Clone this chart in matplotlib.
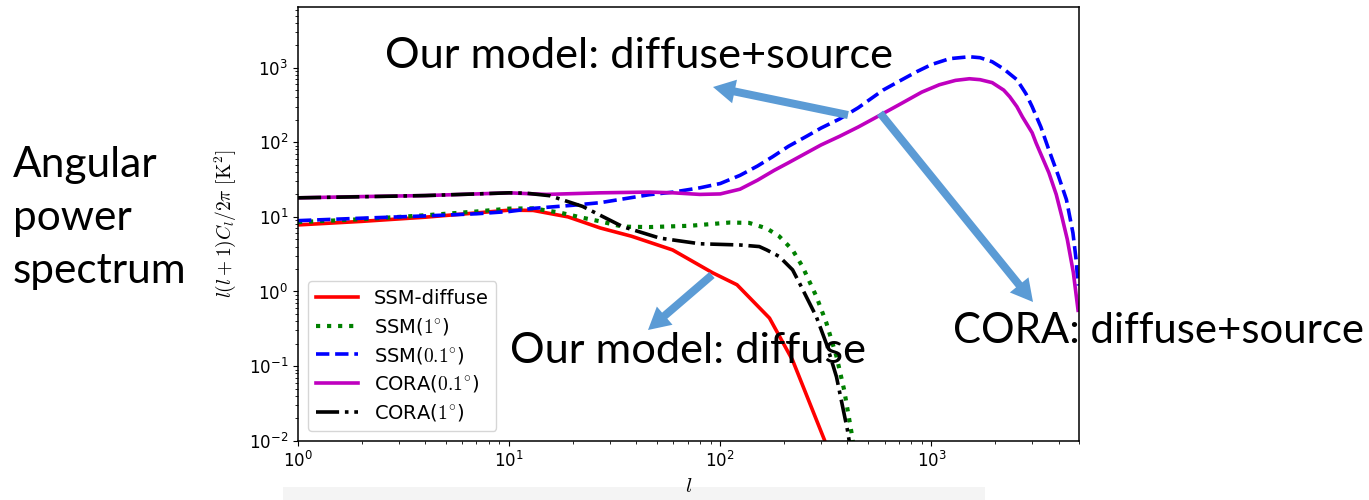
import matplotlib
matplotlib.use("Agg")
import matplotlib.pyplot as plt
from matplotlib.patches import FancyArrow, Rectangle
from matplotlib.transforms import IdentityTransform
from matplotlib.font_manager import FontProperties

plt.rcParams["axes.unicode_minus"] = False

# ---- angular power spectra, l(l+1)C_l/2pi in K^2 ----
l_ssm_diffuse = [1, 2, 4, 7, 10, 13, 19, 27, 38, 59.5, 92, 120, 171, 220, 312, 340]
c_ssm_diffuse = [7.8, 8.7, 9.9, 11.3, 12.3, 12.2, 10.0, 7.1, 5.5, 3.6, 1.78, 1.23, 0.44, 0.12, 0.0101, 0.004]

l_ssm_1deg = [1, 2, 4, 7, 10, 13, 17.4, 22, 27, 34.5, 46, 72, 111, 137, 166, 190, 220, 245, 285, 318, 355, 386, 418, 440]
c_ssm_1deg = [8.5, 9.3, 10.5, 11.8, 12.9, 13.0, 11.4, 9.8, 8.7, 7.4, 7.3, 7.6, 8.4, 8.3, 7.0, 5.5, 3.6, 2.16, 0.86, 0.38, 0.135, 0.048, 0.013, 0.005]

l_ssm_01deg = [1, 2, 4, 7, 10, 13, 20, 27, 46, 60, 80, 100, 124, 150, 177, 210, 256, 300, 367, 450,
               590, 705, 850, 1000, 1220, 1513, 1700, 1940, 2200, 2540, 2800, 3000, 3300, 3600, 4000,
               4360, 4680, 4850, 4950]
c_ssm_01deg = [8.9, 9.6, 10.3, 11.0, 11.8, 13.0, 14.3, 15.5, 19.8, 21.5, 24.5, 28.0, 36.0, 48.0, 64.0,
               88.0, 120.0, 155.0, 205.0, 290.0, 500.0, 660.0, 880.0, 1100.0, 1320.0, 1400.0, 1360.0,
               1200.0, 960.0, 690.0, 450.0, 300.0, 160.0, 79.0, 35.0, 17.0, 6.1, 2.6, 1.2]

l_cora_01deg = [1, 2, 4, 7, 10, 15, 27, 46, 60, 80, 100, 124, 150, 180, 210, 256, 300, 367, 450, 570,
                705, 900, 1090, 1300, 1513, 1700, 1940, 2200, 2350, 2540, 2700, 3000, 3130, 3600,
                3900, 4150, 4400, 4700, 4950]
c_cora_01deg = [18.0, 18.7, 19.3, 20.3, 21.0, 20.0, 21.0, 21.5, 21.0, 20.0, 20.3, 23.5, 31.0, 42.0,
                53.0, 72.0, 92.0, 120.0, 160.0, 230.0, 320.0, 470.0, 590.0, 675.0, 710.0, 690.0, 630.0,
                500.0, 407.0, 300.0, 218.0, 134.0, 98.0, 39.0, 20.0, 10.0, 5.0, 1.8, 0.56]

l_cora_1deg = [1, 2, 4, 7, 10, 12, 15.6, 22.3, 34.5, 51.6, 80, 124, 153, 166, 190, 220, 237, 285, 318, 355, 400, 420]
c_cora_1deg = [18.0, 18.6, 19.3, 20.3, 21.0, 20.8, 19.2, 13.8, 7.4, 5.2, 4.36, 4.2, 4.0, 3.6, 2.95, 1.95, 1.3, 0.46, 0.2, 0.072, 0.014, 0.006]

series_labels = ["SSM-diffuse", r"SSM($1^{\circ}$)", r"SSM($0.1^{\circ}$)",
                 r"CORA($0.1^{\circ}$)", r"CORA($1^{\circ}$)"]

W, H = 1369, 500
fig = plt.figure(figsize=(W / 100, H / 100), dpi=100)
ax = fig.add_axes([298 / W, 1 - 440.7 / H, (1079 - 298) / W, (440.7 - 7) / H])

lw = 2.6
ax.plot(l_ssm_diffuse, c_ssm_diffuse, color="r", ls="-", lw=lw, label=series_labels[0])
ax.plot(l_ssm_1deg, c_ssm_1deg, color="g", ls=":", lw=lw + 0.4, label=series_labels[1])
ax.plot(l_ssm_01deg, c_ssm_01deg, color="b", ls="--", lw=lw, label=series_labels[2])
ax.plot(l_cora_01deg, c_cora_01deg, color="m", ls="-", lw=lw, label=series_labels[3])
ax.plot(l_cora_1deg, c_cora_1deg, color="k", ls="-.", lw=lw, label=series_labels[4])

ax.set_xscale("log")
ax.set_yscale("log")
ax.set_xlim(1, 5000)
ax.set_ylim(1e-2, 6.5e3)
ax.tick_params(which="both", labelsize=12)
ax.set_xlabel(r"$l$", fontsize=15, math_fontfamily="cm", labelpad=4)
ax.set_ylabel(r"$l(l+1)C_l/2\pi\ [\mathrm{K}^2]$", fontsize=14, math_fontfamily="cm", labelpad=8)
for s in ax.spines.values():
    s.set_linewidth(1.1)

ax.legend(loc="lower left", prop=FontProperties(size=14, math_fontfamily="cm"),
          handlelength=2.2, labelspacing=0.4, borderaxespad=0.5)

# ---- slide annotations ----
ann_font = "Lato"
def note(x, y, s, size):
    fig.text(x / W, 1 - y / H, s, fontsize=size, family=ann_font,
             ha="left", va="baseline", color="black")

note(385, 68, "Our model: diffuse+source", 31.2)
note(510, 363, "Our model: diffuse", 31.2)
note(953, 343, "CORA: diffuse+source", 30.2)
note(13, 177, "Angular", 30.5)
note(13, 230, "power", 30.5)
note(13, 283, "spectrum", 30.5)

arrow_color = "#5B9BD5"
arrows = [((848, 115), (713, 87)),
          ((880, 113), (1033, 302)),
          ((712, 275), (648, 330))]
for (x0, y0), (x1, y1) in arrows:
    fig.add_artist(FancyArrow(x0, H - y0, x1 - x0, y0 - y1, width=8, head_width=24,
                              head_length=22, length_includes_head=True,
                              color=arrow_color, lw=0, transform=IdentityTransform()))

fig.add_artist(Rectangle((283 / W, 0), (985 - 283) / W, 13 / H, transform=fig.transFigure,
                         facecolor="#f4f4f4", edgecolor="none", zorder=-1))

fig.savefig("out.png", dpi=100)
